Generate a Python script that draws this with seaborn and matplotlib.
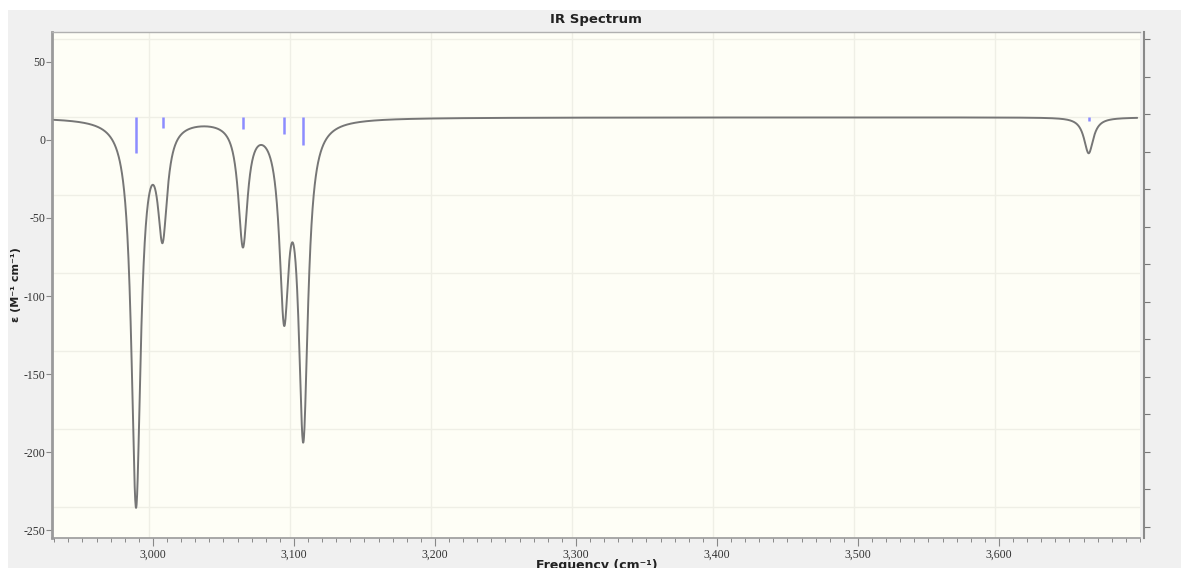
import numpy as np
import pandas as pd
import seaborn as sns
import matplotlib
matplotlib.use('Agg')
import matplotlib.pyplot as plt
from matplotlib.patches import Rectangle
from matplotlib.ticker import FuncFormatter, MultipleLocator

# Peak data (cm^-1)
peak_freqs = [2988.0, 3006.8, 3063.8, 3093.0, 3106.6, 3663.6]
# depth of each broadened band below the baseline
band_depths = [246.7, 69.0, 78.6, 115.9, 198.2, 23.0]
# stick (line spectrum) bottoms, hanging from the stick top
stick_bottoms = [-8.5, 7.9, 7.1, 3.7, -3.2, 11.9]
stick_top = 14.6
baseline = 14.5
hwhm = 4.0

x_ticks = [3000, 3100, 3200, 3300, 3400, 3500, 3600]
y_ticks = [50, 0, -50, -100, -150, -200, -250]


def thousands(x, pos):
    return f'{int(x):,}'


# Lorentzian broadening of the stick spectrum
freq = np.linspace(2930, 3698, 4000)
eps = np.full_like(freq, baseline)
for f0, d in zip(peak_freqs, band_depths):
    eps -= d / (1 + ((freq - f0) / hwhm) ** 2)
spec = pd.DataFrame({'Frequency': freq, 'eps': eps})

sns.set_style('white')
plt.rcParams['font.family'] = ['DejaVu Sans']
plt.rcParams['axes.unicode_minus'] = False

fig = plt.figure(figsize=(11.81, 5.68), dpi=100)
fig.patch.set_facecolor('white')
fig.patches.append(Rectangle((8 / 1181, 0), 1, 1 - 10 / 568, transform=fig.transFigure,
                             facecolor='#f0f0f0', edgecolor='none', zorder=-10))

ax = fig.add_axes([52 / 1181, 1 - 538 / 568, (1140 - 52) / 1181, (538 - 32) / 568])
ax.set_facecolor('#fefef6')

# grid lines (the horizontal ones sit off the labelled ticks in the original)
for gx in x_ticks:
    ax.axvline(gx - 3, color='#efefe6', lw=1, zorder=1)
for gy in np.arange(65, -260, -50):
    ax.axhline(gy, color='#efefe6', lw=1, zorder=1)

sns.lineplot(data=spec, x='Frequency', y='eps', ax=ax, color='#767676', lw=1.4,
             estimator=None, zorder=3)
ax.vlines(peak_freqs, stick_bottoms, stick_top, color='#8c8cff', lw=1.8, zorder=4)

ax.set_xlim(2928.4, 3700)
ax.set_ylim(-255.1, 69.2)
ax.set_xticks(x_ticks)
ax.xaxis.set_minor_locator(MultipleLocator(10))
ax.xaxis.set_major_formatter(FuncFormatter(thousands))
ax.set_yticks(y_ticks)
ax.set_xlabel('')
ax.set_ylabel('')

for lab in ax.get_xticklabels() + ax.get_yticklabels():
    lab.set_family('Liberation Serif')
    lab.set_fontsize(8.5)
    lab.set_color('#333333')

ax.tick_params(axis='x', which='major', direction='out', length=6, width=0.8,
               color='#888888', pad=2, bottom=True)
ax.tick_params(axis='x', which='minor', direction='out', length=3, width=0.7,
               color='#888888', bottom=True)
ax.tick_params(axis='y', direction='out', length=4, width=0.8, color='#888888',
               pad=1, left=True)

for side in ['left', 'bottom', 'top']:
    ax.spines[side].set_visible(True)
ax.spines['left'].set_color('#9a9a9a')
ax.spines['left'].set_linewidth(2.0)
ax.spines['bottom'].set_color('#9a9a9a')
ax.spines['bottom'].set_linewidth(1.2)
ax.spines['top'].set_color('#b0b0b0')
ax.spines['top'].set_linewidth(1.0)
ax.spines['right'].set_visible(False)

# unlabelled right-hand axis
rax = ax.twinx()
rax.set_ylim(ax.get_ylim())
rax.set_yticks(np.arange(64.7, -256, -24.04))
rax.set_yticklabels([])
rax.tick_params(axis='y', direction='out', length=4, width=0.8, color='#777777', right=True)
for side in ['left', 'bottom', 'top']:
    rax.spines[side].set_visible(False)
rax.spines['right'].set_visible(True)
rax.spines['right'].set_color('#8a8a8a')
rax.spines['right'].set_linewidth(1.5)
rax.spines['right'].set_position(('outward', 3))

fig.text(596 / 1181, 1 - 20 / 568, 'IR Spectrum', ha='center', va='center',
         fontsize=9.5, fontweight='bold', color='#222222')
fig.text(16 / 1181, 1 - 285 / 568, 'ε (M⁻¹ cm⁻¹)', ha='center', va='center',
         rotation=90, fontsize=8, fontweight='bold', color='#222222')
fig.text(597 / 1181, 1 - 566 / 568, 'Frequency (cm⁻¹)', ha='center', va='center',
         fontsize=9, fontweight='bold', color='#222222')

fig.savefig('out.png', dpi=100, facecolor='white')
